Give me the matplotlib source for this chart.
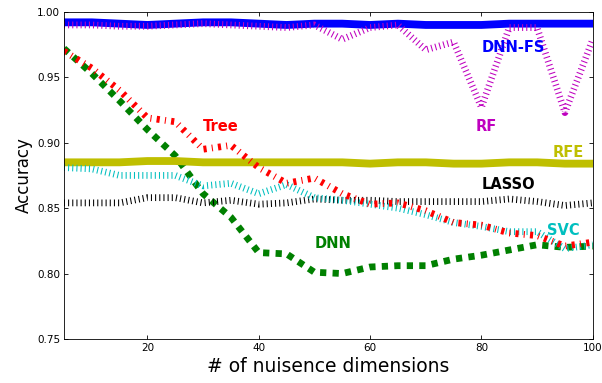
import matplotlib
matplotlib.use("Agg")
import matplotlib.pyplot as plt

plt.rcParams['lines.scale_dashes'] = False
plt.rcParams['xtick.direction'] = 'in'
plt.rcParams['ytick.direction'] = 'in'
plt.rcParams['xtick.top'] = True
plt.rcParams['ytick.right'] = True

dims = [5, 10, 15, 20, 25, 30, 35, 40, 45, 50, 55, 60, 65, 70, 75, 80, 85, 90, 95, 100]

acc_dnnfs = [0.992, 0.992, 0.991, 0.990, 0.991, 0.992, 0.992, 0.991, 0.990, 0.991,
             0.991, 0.990, 0.991, 0.990, 0.990, 0.990, 0.991, 0.991, 0.991, 0.991]
acc_rf = [0.990, 0.990, 0.989, 0.989, 0.990, 0.991, 0.990, 0.989, 0.988, 0.990,
          0.979, 0.988, 0.990, 0.971, 0.977, 0.927, 0.988, 0.988, 0.923, 0.979]
acc_dnn = [0.972, 0.953, 0.932, 0.910, 0.890, 0.861, 0.843, 0.816, 0.815, 0.801,
           0.800, 0.805, 0.806, 0.806, 0.811, 0.814, 0.818, 0.822, 0.820, 0.821]
acc_rfe = [0.885, 0.885, 0.885, 0.886, 0.886, 0.885, 0.885, 0.885, 0.885, 0.885,
           0.885, 0.884, 0.885, 0.885, 0.884, 0.884, 0.885, 0.885, 0.884, 0.884]
acc_lasso = [0.854, 0.854, 0.854, 0.858, 0.858, 0.854, 0.856, 0.853, 0.854, 0.857,
             0.856, 0.856, 0.855, 0.855, 0.855, 0.855, 0.857, 0.855, 0.852, 0.854]
acc_svc = [0.881, 0.880, 0.875, 0.875, 0.875, 0.867, 0.869, 0.861, 0.868, 0.858,
           0.856, 0.853, 0.850, 0.845, 0.839, 0.836, 0.832, 0.832, 0.819, 0.822]
acc_tree = [0.970, 0.957, 0.940, 0.919, 0.916, 0.895, 0.898, 0.881, 0.869, 0.873,
            0.861, 0.853, 0.854, 0.848, 0.839, 0.837, 0.831, 0.829, 0.821, 0.824]

fig = plt.figure(figsize=(603 / 75, 383 / 75), dpi=75)
ax = fig.add_axes([0.106, 0.115, 0.877, 0.854])

ax.plot(dims, acc_dnnfs, color='b', lw=7.5, solid_joinstyle='round')
ax.plot(dims, acc_rf, color='m', lw=6.5, dashes=(1, 3))
ax.plot(dims, acc_dnn, color='g', lw=6.5, dashes=(6, 6))
ax.plot(dims, acc_rfe, color=(0.75, 0.75, 0), lw=7.5, solid_joinstyle='round')
ax.plot(dims, acc_lasso, color='k', lw=6.5, dashes=(1, 3))
ax.plot(dims, acc_svc, color=(0, 0.75, 0.75), lw=6.5, dashes=(1, 3))
ax.plot(dims, acc_tree, color='r', lw=6.5, dashes=(3, 5, 1, 5))

lbl = dict(fontsize=14, fontweight='bold', ha='left', va='baseline')
ax.text(80, 0.969, 'DNN-FS', color='b', **lbl)
ax.text(79, 0.909, 'RF', color='m', **lbl)
ax.text(30, 0.909, 'Tree', color='r', **lbl)
ax.text(92.8, 0.889, 'RFE', color=(0.75, 0.75, 0), **lbl)
ax.text(80, 0.8646, 'LASSO', color='k', **lbl)
ax.text(91.8, 0.8294, 'SVC', color=(0, 0.75, 0.75), **lbl)
ax.text(50, 0.8195, 'DNN', color='g', **lbl)

ax.set_xlim(5, 100)
ax.set_ylim(0.75, 1.0)
ax.set_xticks([20, 40, 60, 80, 100])
ax.set_yticks([0.75, 0.80, 0.85, 0.90, 0.95, 1.00])
ax.set_yticklabels(['0.75', '0.80', '0.85', '0.90', '0.95', '1.00'])
ax.tick_params(labelsize=10, length=4, width=0.8)
ax.set_xlabel('# of nuisence dimensions', fontsize=18)
ax.set_ylabel('Accuracy', fontsize=16)

fig.savefig('out.png', dpi=75)
